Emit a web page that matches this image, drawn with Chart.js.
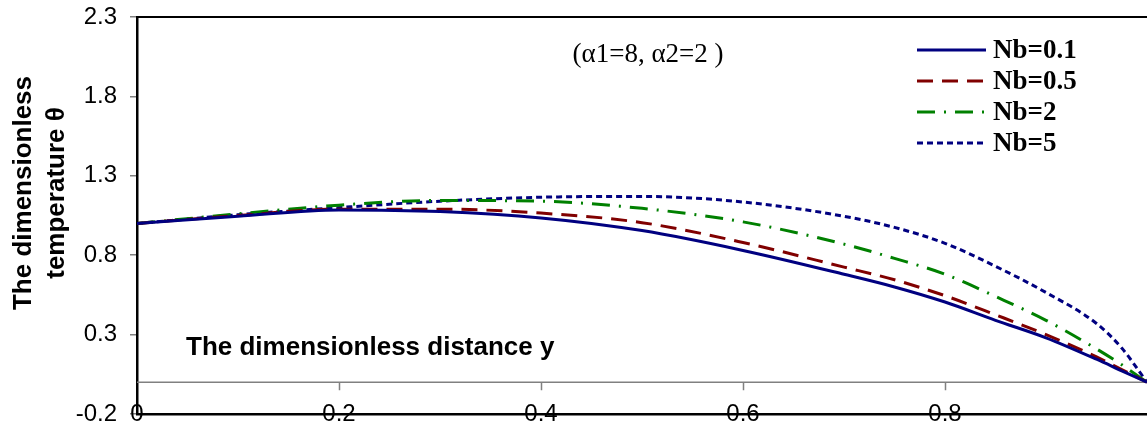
<!DOCTYPE html>
<html>
<head>
<meta charset="utf-8">
<script src="https://cdn.jsdelivr.net/npm/chart.js@4.4.1/dist/chart.umd.min.js"></script>
<style>
  html, body { margin: 0; padding: 0; background: #fff; }
  canvas { display: block; }
</style>
</head>
<body>
<canvas id="thetaChart" width="1147" height="427"></canvas>
<script>
// dimensionless distance y (x axis)
const yPoints = [0, 0.1, 0.2, 0.3, 0.4, 0.5, 0.6, 0.7, 0.75, 0.8, 0.85, 0.9, 0.95, 0.975, 1.0];

// temperature theta for each Nb
const nb01 = [1.0, 1.045, 1.085, 1.075, 1.035, 0.955, 0.83, 0.68, 0.60, 0.505, 0.39, 0.28, 0.145, 0.072, 0];
const nb05 = [1.0, 1.05, 1.09, 1.09, 1.065, 1.005, 0.88, 0.725, 0.645, 0.545, 0.425, 0.30, 0.16, 0.08, 0];
const nb2  = [1.0, 1.06, 1.115, 1.145, 1.14, 1.095, 1.01, 0.87, 0.78, 0.68, 0.54, 0.39, 0.21, 0.11, 0];
const nb5  = [1.0, 1.055, 1.10, 1.14, 1.165, 1.17, 1.135, 1.045, 0.975, 0.875, 0.73, 0.565, 0.37, 0.215, 0];

const seriesLabels = ["Nb=0.1", "Nb=0.5", "Nb=2", "Nb=5"];

const xTicks = [0, 0.2, 0.4, 0.6, 0.8];
const yTicks = [-0.2, 0.3, 0.8, 1.3, 1.8, 2.3];

const SANS = "Arial, 'Liberation Sans', sans-serif";
const SERIF = "'Times New Roman', 'Liberation Serif', serif";

function toPoints(values) {
  return yPoints.map((x, i) => ({ x: x, y: values[i] }));
}

function makeSet(label, values, color, dash, width) {
  return {
    label,
    data: toPoints(values),
    borderColor: color,
    borderDash: dash,
    borderWidth: width,
    showLine: true,
    pointRadius: 0,
    fill: false,
    cubicInterpolationMode: "monotone"
  };
}

function noPadding(scale) {
  scale.paddingTop = 0;
  scale.paddingBottom = 0;
  scale.paddingLeft = 0;
  scale.paddingRight = 0;
}

// ============================
// extra drawing: zero line, frame, texts, legend
// ============================
const decorPlugin = {
  id: "decor",
  beforeDatasetsDraw(chart) {
    const { ctx, chartArea: a, scales } = chart;
    const y0 = scales.y.getPixelForValue(0);

    ctx.save();
    ctx.strokeStyle = "#808080";
    ctx.lineWidth = 1.5;
    ctx.beginPath();
    ctx.moveTo(a.left, y0);
    ctx.lineTo(a.right, y0);
    xTicks.forEach(v => {
      if (v === 0) return;
      const px = Math.round(scales.x.getPixelForValue(v)) + 0.5;
      ctx.moveTo(px, y0);
      ctx.lineTo(px, y0 + 8);
    });
    ctx.stroke();

    ctx.strokeStyle = "#000";
    ctx.lineWidth = 2;
    ctx.beginPath();
    ctx.moveTo(a.left, a.top);
    ctx.lineTo(a.right, a.top);
    ctx.stroke();
    ctx.restore();
  },
  afterDraw(chart) {
    const { ctx } = chart;
    ctx.save();
    ctx.fillStyle = "#000";

    // y axis title
    ctx.font = "bold 26px " + SANS;
    ctx.textAlign = "center";
    ctx.textBaseline = "middle";
    ctx.save();
    ctx.translate(24, 193);
    ctx.rotate(-Math.PI / 2);
    ctx.fillText("The dimensionless", 0, 0);
    ctx.restore();
    ctx.save();
    ctx.translate(57, 193);
    ctx.rotate(-Math.PI / 2);
    ctx.fillText("temperature \u03b8", 0, 0);
    ctx.restore();

    // x axis title (inside the plot)
    ctx.textAlign = "left";
    ctx.textBaseline = "alphabetic";
    ctx.fillText("The dimensionless distance y", 186, 355);

    // parameters note
    ctx.font = "27px " + SERIF;
    ctx.textAlign = "center";
    ctx.textBaseline = "middle";
    ctx.fillText("(\u03b11=8, \u03b12=2 )", 648, 55);

    // legend
    ctx.textAlign = "left";
    ctx.font = "bold 27px " + SERIF;
    chart.data.datasets.forEach((ds, i) => {
      const ly = 50 + i * 31;
      ctx.save();
      ctx.strokeStyle = ds.borderColor;
      ctx.lineWidth = ds.borderWidth;
      ctx.setLineDash(ds.borderDash || []);
      ctx.beginPath();
      ctx.moveTo(917, ly);
      ctx.lineTo(986, ly);
      ctx.stroke();
      ctx.restore();
      ctx.fillText(ds.label, 993, ly + 1);
    });
    ctx.restore();
  }
};

const ctx = document.getElementById("thetaChart").getContext("2d");

new Chart(ctx, {
  type: "scatter",
  data: {
    datasets: [
      makeSet(seriesLabels[0], nb01, "#000080", [], 3),
      makeSet(seriesLabels[1], nb05, "#800000", [16, 9], 3),
      makeSet(seriesLabels[2], nb2, "#008000", [18, 9, 2, 9], 3),
      makeSet(seriesLabels[3], nb5, "#000080", [6, 4], 3)
    ]
  },
  options: {
    responsive: false,
    animation: false,
    devicePixelRatio: 1,
    layout: { padding: { top: 17, right: 0, left: 0, bottom: 0 } },
    plugins: {
      legend: { display: false },
      tooltip: { enabled: false }
    },
    scales: {
      x: {
        type: "linear",
        min: 0,
        max: 1,
        afterBuildTicks: scale => { scale.ticks = xTicks.map(v => ({ value: v })); },
        afterFit: scale => { scale.height = 13; noPadding(scale); },
        grid: { display: false, drawTicks: false },
        border: { display: true, color: "#000", width: 2.5 },
        ticks: {
          color: "#000",
          font: { family: SANS, size: 24 },
          // mirror keeps the labels unclipped so they can sit on the axis line
          mirror: true,
          padding: -15,
          maxRotation: 0,
          callback: v => String(v)
        }
      },
      y: {
        min: -0.2,
        max: 2.3,
        afterBuildTicks: scale => { scale.ticks = yTicks.map(v => ({ value: v })); },
        afterFit: scale => { scale.width = 137; noPadding(scale); },
        grid: {
          display: true,
          drawOnChartArea: false,
          drawTicks: true,
          tickLength: 7,
          color: "#808080",
          lineWidth: 1.5
        },
        border: { display: true, color: "#000", width: 2.5 },
        ticks: {
          color: "#000",
          font: { family: SANS, size: 24 },
          padding: 13,
          callback: v => String(v)
        }
      }
    }
  },
  plugins: [decorPlugin]
});
</script>
</body>
</html>
